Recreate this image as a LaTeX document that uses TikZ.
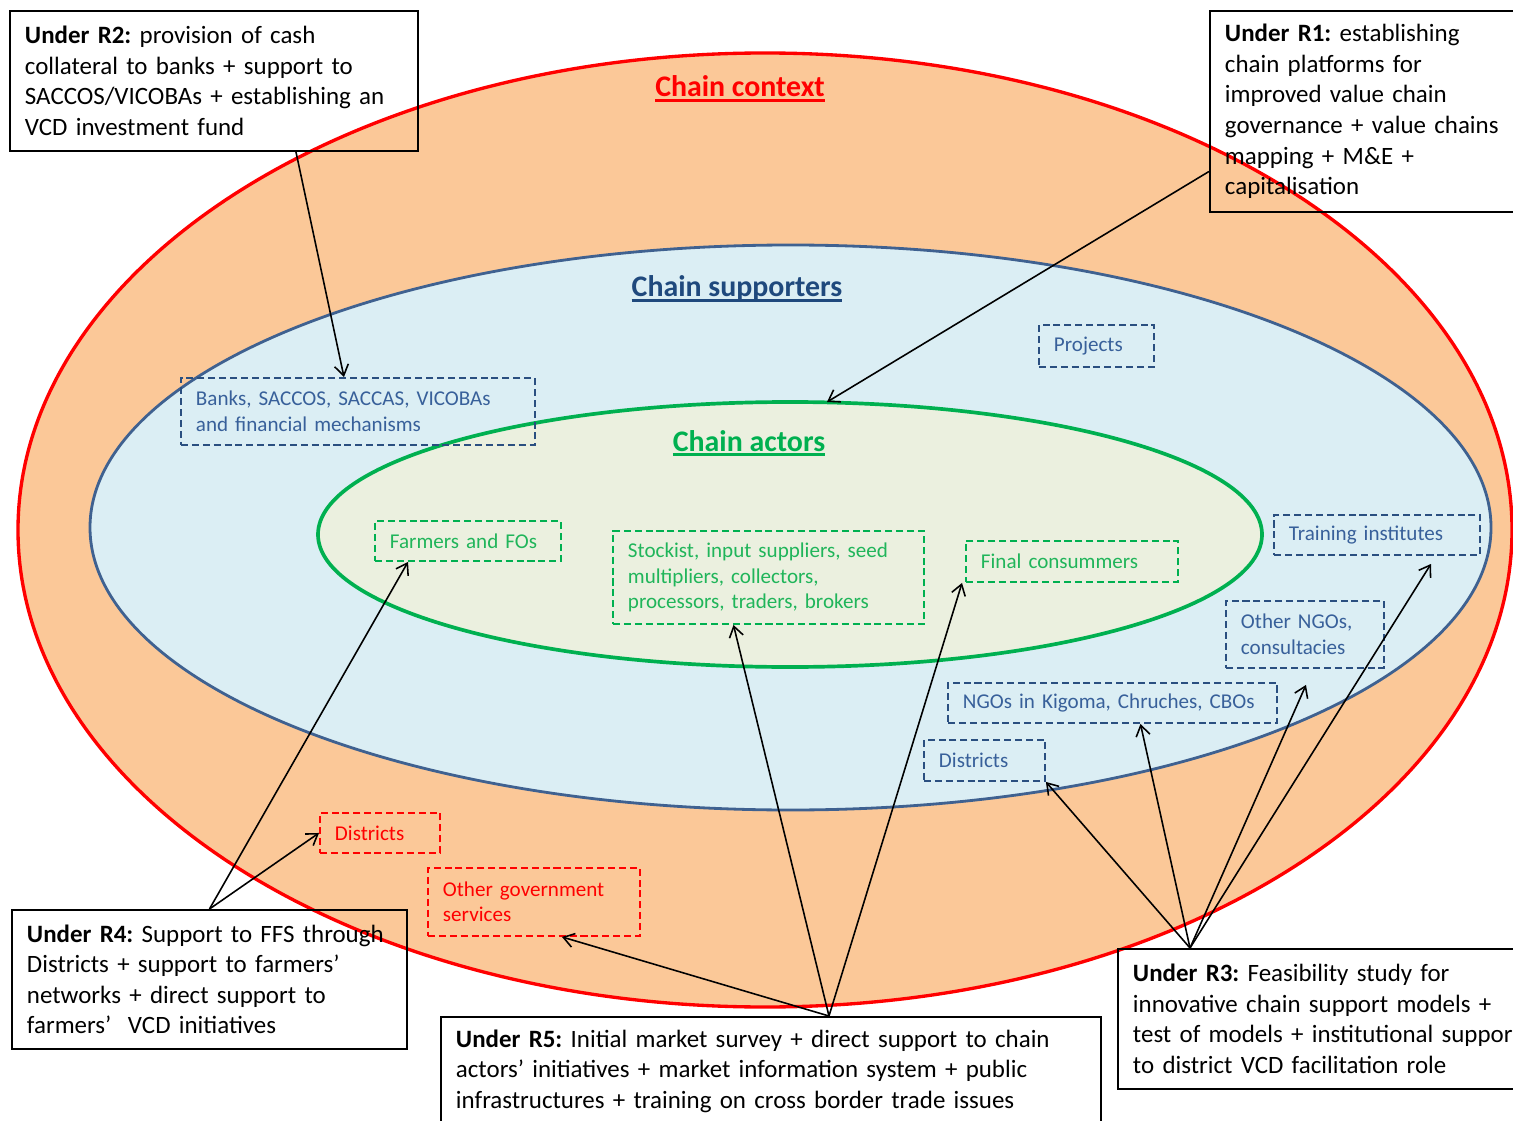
\documentclass[tikz,border=0pt]{standalone}
\usepackage{fontspec}
\setmainfont{Carlito}
\frenchspacing
\usepackage{tikz}
\usetikzlibrary{calc,arrows.meta}
\definecolor{ctxfill}{HTML}{FBC898}
\definecolor{ctxred}{HTML}{FF0000}
\definecolor{supfill}{HTML}{DBEEF4}
\definecolor{supline}{HTML}{3F6190}
\definecolor{suptext}{HTML}{1F497D}
\definecolor{supdash}{HTML}{2A4F80}
\definecolor{supword}{HTML}{38609A}
\definecolor{actfill}{HTML}{EBF0DF}
\definecolor{actgreen}{HTML}{00B050}
\definecolor{actword}{HTML}{20B55A}
\newdimen\pxu
\pxu=0.02cm
\newcommand\bodyfont{\fontsize{14.2}{17.4}\selectfont}
\newcommand\boxfont{\fontsize{12}{14.5}\selectfont}
\newcommand\titlefont{\fontsize{17}{20}\selectfont\bfseries}
\newcommand\ultitle[1]{\setbox0=\hbox{#1}\rlap{\copy0}\rule[-2.8pt]{\wd0}{1.4pt}}
\tikzset{
  ctxring/.style={draw=ctxred, line width=1.9pt, fill=ctxfill},
  supring/.style={draw=supline, line width=1.6pt, fill=supfill},
  actring/.style={draw=actgreen, line width=2.1pt, fill=actfill},
  rbox/.style={draw=black, line width=1.1pt, anchor=north west, inner xsep=15\pxu,
    inner ysep=0pt, align=left, font=\bodyfont},
  dbox/.style={dash pattern=on 4pt off 2.2pt, line width=1.1pt, anchor=north west,
    inner xsep=15\pxu, inner ysep=0pt, align=left, font=\boxfont},
  supbox/.style={dbox, draw=supdash, text=supword},
  actbox/.style={dbox, draw=actgreen, text=actword},
  ctxbox/.style={dbox, draw=ctxred, text=ctxred},
  ttl/.style={anchor=base, font=\titlefont},
  arr/.style={-{Straight Barb[length=6pt,width=8pt]}, line width=0.9pt}
}

\begin{document}
\begin{tikzpicture}[x=0.02cm, y=-0.02cm]
  \useasboundingbox (0,0) rectangle (1513,1121);

  % the three nested rings
  \filldraw[ctxring] (765,530) ellipse (747 and 477);
  \filldraw[supring] (790.5,527.5) ellipse (700.5 and 282.5);
  \filldraw[actring] (790,534.5) ellipse (472 and 132.5);
  \coordinate (actTop) at (827,402);

  \node[ttl, text=ctxred] (ctxT) at (740,97) {\ultitle{Chain context}};
  \node[ttl, text=suptext] (supT) at (737,297) {\ultitle{Chain supporters}};
  \node[ttl, text=actgreen] (actT) at (749,451) {\ultitle{Chain actors}};

  % supporters
  \node[supbox, minimum width=354\pxu, minimum height=67\pxu, text width=324\pxu] (banks) at (180,377)
    {Banks, SACCOS, SACCAS, VICOBAs\\and financial mechanisms};
  \node[supbox, minimum width=115\pxu, minimum height=42\pxu, text width=85\pxu] (proj) at (1038,324) {Projects};
  \node[supbox, minimum width=206\pxu, minimum height=40\pxu, text width=176\pxu] (train) at (1273,514) {Training institutes};
  \node[supbox, minimum width=158\pxu, minimum height=67\pxu, text width=128\pxu] (othngo) at (1225,600)
    {Other NGOs,\\consultacies};
  \node[supbox, minimum width=329\pxu, minimum height=40\pxu, text width=299\pxu] (kigoma) at (947,682)
    {NGOs in Kigoma, Chruches, CBOs};
  \node[supbox, minimum width=121\pxu, minimum height=41\pxu, text width=91\pxu] (distB) at (923,739) {Districts};

  % actors
  \node[actbox, minimum width=186\pxu, minimum height=40\pxu, text width=156\pxu] (farm) at (374,520) {Farmers and FOs};
  \node[actbox, minimum width=311\pxu, minimum height=93\pxu, text width=281\pxu] (stock) at (612,530)
    {Stockist, input suppliers, seed\\multipliers, collectors,\\processors, traders, brokers};
  \node[actbox, minimum width=212\pxu, minimum height=41\pxu, text width=182\pxu] (final) at (965,540) {Final consummers};

  % context
  \node[ctxbox, minimum width=120\pxu, minimum height=40\pxu, text width=90\pxu] (distR) at (319,812) {Districts};
  \node[ctxbox, minimum width=212\pxu, minimum height=68\pxu, text width=182\pxu] (othgov) at (427,867)
    {Other government\\services};

  % result boxes
  \node[rbox, minimum width=408\pxu, minimum height=140\pxu, text width=378\pxu] (r2) at (9,10)
    {\textbf{Under R2:} provision of cash\\collateral to banks + support to\\SACCOS/VICOBAs + establishing an\\VCD investment fund};
  \node[rbox, minimum width=321\pxu, minimum height=201\pxu, text width=291\pxu] (r1) at (1209,10)
    {\textbf{Under R1:} establishing\\chain platforms for\\improved value chain\\governance + value chains\\mapping + M\&E +\\capitalisation};
  \node[rbox, minimum width=395\pxu, minimum height=139\pxu, text width=365\pxu] (r4) at (11,909)
    {\textbf{Under R4:} Support to FFS through\\Districts + support to farmers’\\networks + direct support to\\farmers’~ VCD initiatives};
  \node[rbox, minimum width=660\pxu, minimum height=108\pxu, text width=630\pxu] (r5) at (440,1016)
    {\textbf{Under R5:} Initial market survey + direct support to chain\\actors’ initiatives + market information system + public\\infrastructures + training on cross border trade issues};
  \node[rbox, minimum width=440\pxu, minimum height=140\pxu, text width=410\pxu] (r3) at (1117,948)
    {\textbf{Under R3:} Feasibility study for\\innovative chain support models +\\test of models + institutional support\\to district VCD facilitation role};

  % arrows
  \draw[arr] ($(r2.south)+(82,0)$) -- ($(banks.north)+(-14,0)$);
  \draw[arr] ($(r1.west)+(0,60)$) -- (actTop);
  \draw[arr] (r4.north) -- ($(farm.south west)+(34,0)$);
  \draw[arr] (r4.north) -- (distR.west);
  \coordinate (r5top) at ($(r5.north)+(58,0)$);
  \draw[arr] (r5top) -- ($(stock.south)+(-35,0)$);
  \draw[arr] (r5top) -- ($(final.south west)+(-3,0)$);
  \draw[arr] (r5top) -- ($(othgov.south)+(28,0)$);
  \coordinate (r3top) at ($(r3.north west)+(73,0)$);
  \draw[arr] (r3top) -- (distB.south east);
  \draw[arr] (r3top) -- ($(kigoma.south)+(28,0)$);
  \draw[arr] (r3top) -- ($(othngo.south)+(1,16)$);
  \draw[arr] (r3top) -- ($(train.south)+(54,8)$);
\end{tikzpicture}
\end{document}
